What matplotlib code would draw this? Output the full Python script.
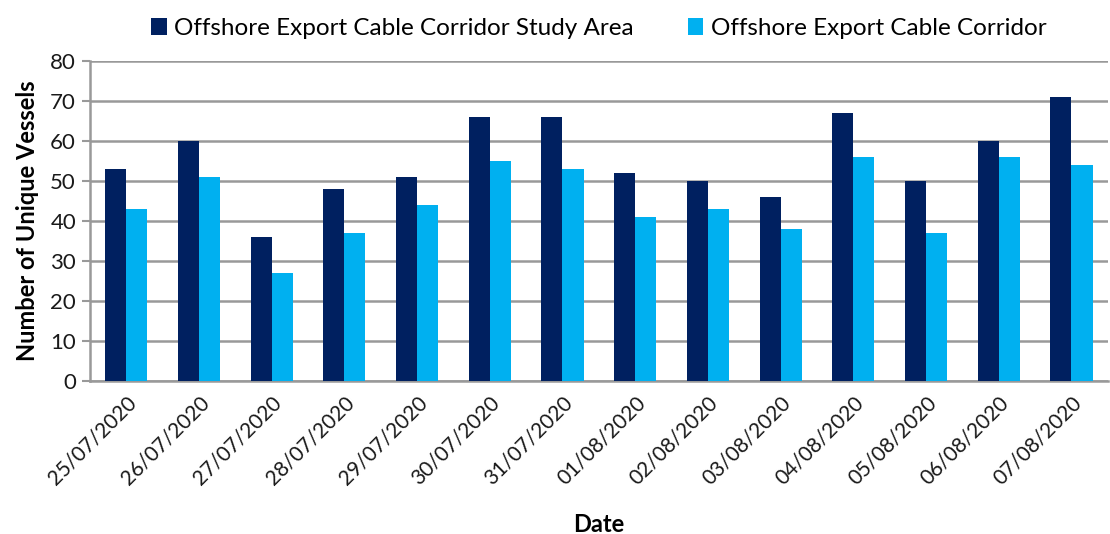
import matplotlib
matplotlib.use("Agg")
import matplotlib.pyplot as plt
import numpy as np

dates = ["25/07/2020", "26/07/2020", "27/07/2020", "28/07/2020", "29/07/2020",
         "30/07/2020", "31/07/2020", "01/08/2020", "02/08/2020", "03/08/2020",
         "04/08/2020", "05/08/2020", "06/08/2020", "07/08/2020"]
study_area = [53, 60, 36, 48, 51, 66, 66, 52, 50, 46, 67, 50, 60, 71]
corridor = [43, 51, 27, 37, 44, 55, 53, 41, 43, 38, 56, 37, 56, 54]
series_names = ["Offshore Export Cable Corridor Study Area", "Offshore Export Cable Corridor"]
colors = ["#002060", "#00B0F0"]

plt.rcParams['font.family'] = ['Lato', 'DejaVu Sans']

fig = plt.figure(figsize=(11.1, 5.34), dpi=100)
ax = fig.add_axes([0.081, 0.2865, 0.917, 0.5993])

x = np.arange(len(dates))
w = 0.29
ax.bar(x - w/2, study_area, width=w, color=colors[0], label=series_names[0], zorder=3)
ax.bar(x + w/2, corridor, width=w, color=colors[1], label=series_names[1], zorder=3)

ax.set_xlim(-0.5, len(dates) - 0.5)
ax.set_ylim(0, 80)
ax.set_yticks(range(0, 81, 10))
ax.yaxis.grid(True, color="#999999", linewidth=1.8, zorder=0)
ax.set_axisbelow(True)

for s in ["top", "right"]:
    ax.spines[s].set_visible(False)
for s in ["left", "bottom"]:
    ax.spines[s].set_color("#999999")
    ax.spines[s].set_linewidth(1.8)

ax.tick_params(axis="y", labelsize=16, colors="#999999", labelcolor="#1a1a1a", length=6, width=1.5, pad=4)
ax.set_xticks(x)
ax.set_xticklabels(dates, rotation=45, ha="right", rotation_mode="anchor", fontsize=15, color="#1a1a1a")
ax.tick_params(axis="x", length=0, pad=8)

ax.set_ylabel("Number of Unique Vessels", fontsize=17, fontweight="bold", labelpad=8)
ax.set_xlabel("Date", fontsize=17, fontweight="bold", labelpad=18)

leg = ax.legend(loc="lower center", bbox_to_anchor=(0.5, 1.0), ncol=2, frameon=False,
                fontsize=17.5, handlelength=0.65, handleheight=0.65, handletextpad=0.3,
                columnspacing=2.2)

fig.savefig("out.png", dpi=100)
